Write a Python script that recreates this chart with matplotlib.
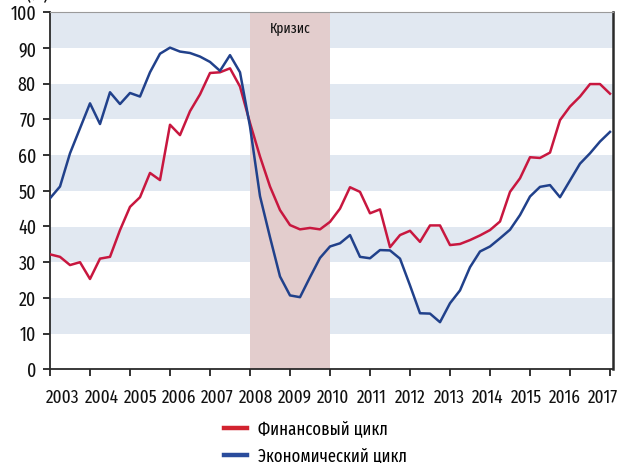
import numpy as np
import pandas as pd
import matplotlib
matplotlib.use("Agg")
import matplotlib.pyplot as plt
from matplotlib.lines import Line2D

plt.rcParams['font.family'] = ['Fira Sans Extra Condensed', 'DejaVu Sans']

# ---- data ----
quarters = pd.period_range('2003Q1', '2017Q1', freq='Q')
fin_cycle = [32.2, 31.5, 29.2, 30.0, 25.3, 31.0, 31.5, 39.0, 45.5, 48.2, 55.0, 53.0,
             68.5, 65.6, 72.3, 77.0, 83.0, 83.2, 84.3, 79.2, 69.0, 59.6, 51.2, 44.6,
             40.4, 39.2, 39.6, 39.2, 41.3, 45.0, 51.0, 49.7, 43.7, 44.8, 34.2, 37.6,
             38.8, 35.7, 40.3, 40.3, 34.8, 35.1, 36.2, 37.5, 39.0, 41.4, 49.7, 53.5,
             59.4, 59.2, 60.7, 69.8, 73.6, 76.4, 79.9, 79.9, 77.2]
eco_cycle = [47.9, 51.2, 60.5, 67.5, 74.5, 68.7, 77.6, 74.3, 77.4, 76.4, 83.2, 88.4,
             90.1, 89.0, 88.6, 87.6, 86.1, 83.6, 88.0, 83.2, 68.0, 48.5, 37.0, 26.0,
             20.7, 20.2, 25.8, 31.2, 34.4, 35.3, 37.6, 31.5, 31.1, 33.4, 33.3, 31.0,
             23.5, 15.7, 15.6, 13.2, 18.5, 22.1, 28.6, 33.0, 34.4, 36.7, 39.1, 43.2,
             48.4, 51.1, 51.6, 48.2, 52.9, 57.6, 60.5, 63.8, 66.5]
year_labels = [str(y) for y in range(2003, 2018)]
crisis_start, crisis_end = 2008, 2010
series_names = ['Финансовый цикл', 'Экономический цикл']

x = np.array([q.year + (q.quarter - 1) / 4 for q in quarters])

# ---- figure ----
W, H = 622, 463
fig = plt.figure(figsize=(W / 100, H / 100), dpi=100)
ax = fig.add_axes([50 / W, 1 - 369.3 / H, (613 - 50) / W, (369.3 - 12.3) / H])

stripe = '#e1e8f1'
for lo in range(10, 100, 20):
    ax.axhspan(lo, lo + 10, color=stripe, lw=0, zorder=0)
ax.axvspan(crisis_start, crisis_end, color='#e3cdcd', lw=0, zorder=1)
ax.text((crisis_start + crisis_end) / 2, 95.6, 'Кризис', ha='center', va='center',
        fontsize=10.5, color='#111111', zorder=3)

red = '#c8173f'
blue = '#21418b'
ax.plot(x, fin_cycle, color=red, lw=1.8, zorder=4, solid_joinstyle='round')
ax.plot(x, eco_cycle, color=blue, lw=1.8, zorder=4, solid_joinstyle='round')

ax.set_xlim(2003, 2017.075)
ax.set_ylim(0, 100)

years = np.arange(2003, 2018)
ax.set_xticks(years)
ax.set_xticklabels([])
label_pos = 2003 + (63 + np.arange(len(year_labels)) * 38.6 - 50) / 40
ax.set_xticks(label_pos, minor=True)
ax.set_xticklabels(year_labels, minor=True)
ax.tick_params(axis='x', which='minor', length=0, pad=14, labelsize=13.5, colors='#111111')
ax.tick_params(axis='x', which='major', length=5, width=1.3, direction='out', color='#222222')
ax.set_yticks(np.arange(0, 101, 10))
ax.tick_params(axis='y', length=5, width=1.3, direction='out', pad=5, labelsize=14,
               color='#222222', labelcolor='#111111')

for s in ['left', 'bottom']:
    ax.spines[s].set_color('#2a2a2a')
    ax.spines[s].set_linewidth(1.3)
ax.spines['right'].set_color('#2a2a2a')
ax.spines['right'].set_linewidth(1.8)
ax.spines['top'].set_color('#9a9a9a')
ax.spines['top'].set_linewidth(0.8)

fig.text(37 / W, 1 - 4 / H, '(%)', ha='center', va='bottom', fontsize=14, color='#111111')

handles = [Line2D([], [], color='#d2232f', lw=3.2),
           Line2D([], [], color='#2a4c9c', lw=3.2)]
fig.legend(handles, series_names, loc='upper left', bbox_to_anchor=(224 / W, 1 - 420 / H),
           frameon=False, fontsize=13, handlelength=1.3, handletextpad=0.6,
           labelspacing=0.52, borderpad=0, borderaxespad=0)

fig.savefig('out.png', dpi=100)
